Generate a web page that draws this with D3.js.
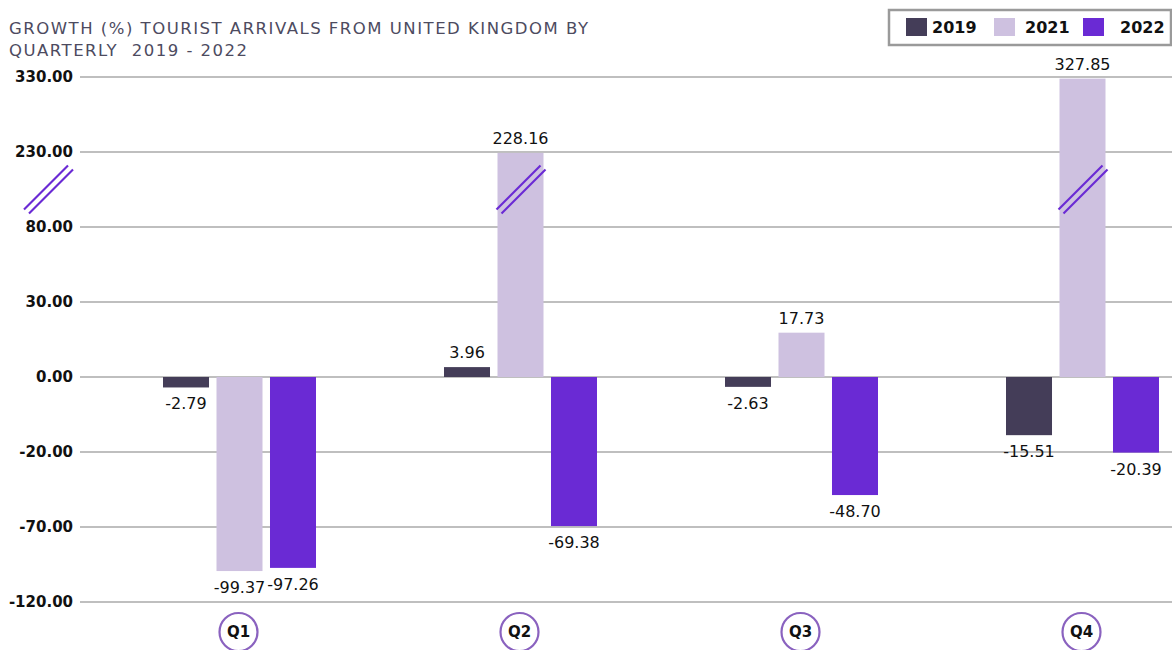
<!DOCTYPE html>
<html>
<head>
<meta charset="utf-8">
<script src="https://cdn.jsdelivr.net/npm/d3@7"></script>
<style>
  body { margin: 0; background: #fff; }
  svg { display: block; font-family: "DejaVu Sans", sans-serif; }
</style>
</head>
<body>
<svg id="chart"></svg>
<script>
const quarters = ["Q1", "Q2", "Q3", "Q4"];
const years = ["2019", "2021", "2022"];
const values2019 = [-2.79, 3.96, -2.63, -15.51];
const values2021 = [-99.37, 228.16, 17.73, 327.85];
const values2022 = [-97.26, -69.38, -48.70, -20.39];
const tickValues = [-120, -70, -20, 0, 30, 80, 230, 330];
const colors = ["#443d58", "#cec1e0", "#6a2ad4"];

const width = 1172, height = 650;
const svg = d3.select("#chart").attr("width", width).attr("height", height);
const fmt = v => d3.format(".2f")(v).replace("\u2212", "-");

// broken axis: ticks are equally spaced on screen
const yTop = 77, yStep = 75;
const y = d3.scaleLinear()
  .domain(tickValues)
  .range(tickValues.map((d, i) => yTop + (tickValues.length - 1 - i) * yStep));

const x = d3.scaleBand().domain(quarters).range([99, 1223]);
const xInner = d3.scaleBand().domain(years).range([64, 217]).paddingInner(0.14);

// title
const title = svg.append("text").attr("fill", "#4d4b5f")
  .style("font-size", "16.5px").style("letter-spacing", "1.5px");
title.append("tspan").attr("x", 9).attr("y", 34).text("GROWTH (%) TOURIST ARRIVALS FROM UNITED KINGDOM BY");
title.append("tspan").attr("x", 9).attr("y", 56).attr("xml:space", "preserve").text("QUARTERLY  2019 - 2022");

// gridlines + tick labels
svg.append("g").selectAll("line").data(tickValues).enter().append("line")
  .attr("x1", 80).attr("x2", width)
  .attr("y1", d => y(d)).attr("y2", d => y(d))
  .attr("stroke", "#aaa").attr("stroke-width", 1.3);

svg.append("g").selectAll("text").data(tickValues).enter().append("text")
  .attr("x", 73).attr("y", d => y(d)).attr("dy", "0.35em")
  .attr("text-anchor", "end").attr("font-weight", "bold")
  .style("font-size", "15px").attr("fill", "#111")
  .text(d => fmt(d));

// bars
const series = [values2019, values2021, values2022];
const barData = [];
quarters.forEach((q, i) => {
  years.forEach((yr, j) => barData.push({ q, yr, j, v: series[j][i] }));
});

const bars = svg.append("g");
bars.selectAll("rect").data(barData).enter().append("rect")
  .attr("x", d => x(d.q) + xInner(d.yr))
  .attr("width", xInner.bandwidth())
  .attr("y", d => Math.min(y(0), y(d.v)))
  .attr("height", d => Math.abs(y(d.v) - y(0)))
  .attr("fill", d => colors[d.j]);

bars.selectAll("text").data(barData).enter().append("text")
  .attr("x", d => x(d.q) + xInner(d.yr) + xInner.bandwidth() / 2)
  .attr("y", d => d.v >= 0 ? y(d.v) - 9 : y(d.v) + 22)
  .attr("text-anchor", "middle")
  .style("font-size", "16px").attr("fill", "#111")
  .text(d => fmt(d.v));

// break marks
function breakMark(cx, cy) {
  const g = svg.append("g").attr("stroke", "#6a2ad4").attr("stroke-width", 2.2);
  g.append("line").attr("x1", cx - 24).attr("y1", cy + 20).attr("x2", cx + 20).attr("y2", cy - 24);
  g.append("line").attr("x1", cx - 19).attr("y1", cy + 24).attr("x2", cx + 25).attr("y2", cy - 20);
}
const breakY = (y(230) + y(80)) / 2;
breakMark(48, breakY);
breakMark(x("Q2") + xInner("2021") + xInner.bandwidth() / 2, breakY);
breakMark(x("Q4") + xInner("2021") + xInner.bandwidth() / 2, breakY);

// category labels in circles
const cats = svg.append("g").selectAll("g").data(quarters).enter().append("g")
  .attr("transform", d => `translate(${x(d) + x.bandwidth() / 2 - 1},632)`);
cats.append("circle").attr("r", 19).attr("fill", "#fff")
  .attr("stroke", "#8a62bf").attr("stroke-width", 2.2);
cats.append("text").attr("dy", "0.35em").attr("text-anchor", "middle")
  .attr("font-weight", "bold").style("font-size", "15px").attr("fill", "#111")
  .text(d => d);

// legend
const legend = svg.append("g");
legend.append("rect").attr("x", 889).attr("y", 10).attr("width", 282).attr("height", 35)
  .attr("fill", "#fff").attr("stroke", "#9a9a9a").attr("stroke-width", 2.5);
const legendX = [906, 994, 1083];
const legendTextX = [932, 1025, 1120];
years.forEach((yr, j) => {
  legend.append("rect").attr("x", legendX[j]).attr("y", 18).attr("width", 21).attr("height", 18)
    .attr("fill", colors[j]);
  legend.append("text").attr("x", legendTextX[j]).attr("y", 27).attr("dy", "0.35em")
    .attr("font-weight", "bold").style("font-size", "16px").attr("fill", "#111")
    .text(yr);
});
</script>
</body>
</html>
